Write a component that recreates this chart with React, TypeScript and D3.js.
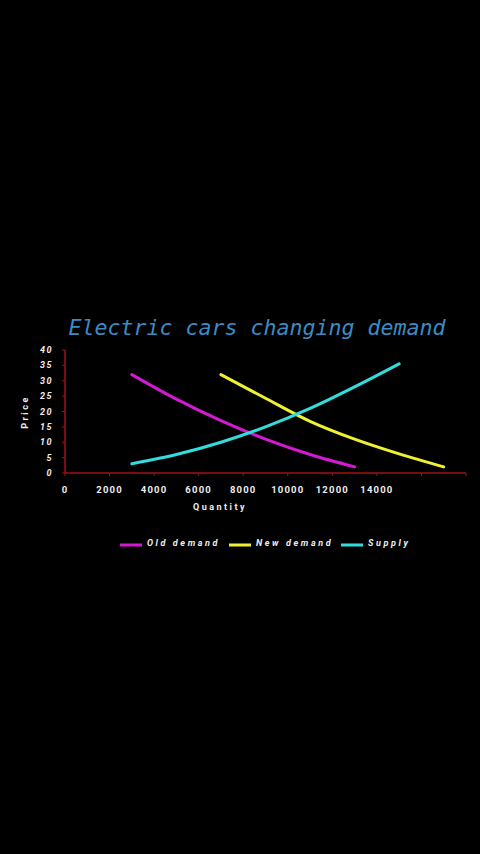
import React, { useEffect } from "react";
import * as d3 from "d3";

const quantityTicks = [0, 2000, 4000, 6000, 8000, 10000, 12000, 14000, 16000, 18000];
const quantityLabels = ["0", "2000", "4000", "6000", "8000", "10000", "12000", "14000", "", ""];
const priceTicks = [0, 5, 10, 15, 20, 25, 30, 35, 40];

const oldDemandQ = [3000, 5000, 7000, 9000, 11000, 13000];
const oldDemandP = [32, 24, 17, 11, 6, 2];
const newDemandQ = [7000, 9000, 11000, 13000, 15000, 17000];
const newDemandP = [32, 24.3, 16.8, 11, 6.2, 2];
const supplyQ = [3000, 5000, 7000, 9000, 11000, 13000, 15000];
const supplyP = [3, 6, 10, 15, 21, 28, 35.5];

const seriesNames = ["Old demand", "New demand", "Supply"];
const seriesColors = ["#d21ad2", "#f0f032", "#32dcdc"];

export default function App() {
  useEffect(() => {
    document.body.style.margin = "0";
    document.body.style.background = "#000";
  }, []);

  const x = d3.scaleLinear().domain([0, 18000]).range([65, 466]);
  const y = d3.scaleLinear().domain([0, 40]).range([473, 350]);
  const line = d3
    .line<[number, number]>()
    .x((d) => x(d[0]))
    .y((d) => y(d[1]))
    .curve(d3.curveMonotoneX);

  const series = [
    oldDemandQ.map((q, i) => [q, oldDemandP[i]] as [number, number]),
    newDemandQ.map((q, i) => [q, newDemandP[i]] as [number, number]),
    supplyQ.map((q, i) => [q, supplyP[i]] as [number, number]),
  ];

  const axisColor = "#a01212";
  const labelFont = "Roboto, 'DejaVu Sans', sans-serif";
  const legendX = [120, 229, 341];

  return (
    <svg width={480} height={854} style={{ display: "block", background: "#000" }}>
      <rect x={0} y={0} width={480} height={854} fill="#000" />
      <text
        x={257}
        y={335}
        textAnchor="middle"
        fill="#3a8cc4"
        fontFamily="'DejaVu Sans Mono', monospace"
        fontStyle="italic"
        fontSize={21.6}
      >
        Electric cars changing demand
      </text>

      {/* y axis */}
      <line x1={x(0)} x2={x(0)} y1={y(40)} y2={y(0)} stroke={axisColor} strokeWidth={1.5} />
      {priceTicks.map((p) => (
        <g key={p}>
          <line x1={x(0) - 3} x2={x(0)} y1={y(p)} y2={y(p)} stroke={axisColor} strokeWidth={1} />
          <text
            x={53}
            y={y(p) + 3}
            textAnchor="end"
            fill="#eee"
            fontFamily={labelFont}
            fontStyle="italic"
            fontWeight="bold"
            fontSize={9}
            letterSpacing={1.5}
          >
            {p}
          </text>
        </g>
      ))}

      {/* x axis */}
      <line x1={x(0)} x2={x(18000)} y1={y(0)} y2={y(0)} stroke={axisColor} strokeWidth={1.5} />
      {quantityTicks.map((q, i) => (
        <g key={q}>
          <line x1={x(q)} x2={x(q)} y1={y(0)} y2={y(0) + 3} stroke={axisColor} strokeWidth={1} />
          <text
            x={x(q)}
            y={493}
            textAnchor="middle"
            fill="#eee"
            fontFamily={labelFont}
            fontWeight="bold"
            fontSize={9.5}
            letterSpacing={1.2}
          >
            {quantityLabels[i]}
          </text>
        </g>
      ))}

      <text
        x={220}
        y={510}
        textAnchor="middle"
        fill="#eee"
        fontFamily={labelFont}
        fontWeight="bold"
        fontSize={9}
        letterSpacing={2.5}
      >
        Quantity
      </text>
      <text
        transform={`translate(28,${412}) rotate(-90)`}
        textAnchor="middle"
        fill="#eee"
        fontFamily={labelFont}
        fontWeight="bold"
        fontSize={9}
        letterSpacing={2.5}
      >
        Price
      </text>

      {series.map((s, i) => (
        <path
          key={i}
          d={line(s) || ""}
          fill="none"
          stroke={seriesColors[i]}
          strokeWidth={3}
          strokeLinecap="round"
        />
      ))}

      {seriesNames.map((n, i) => (
        <g key={n}>
          <line
            x1={legendX[i]}
            x2={legendX[i] + 22}
            y1={545}
            y2={545}
            stroke={seriesColors[i]}
            strokeWidth={3}
          />
          <text
            x={legendX[i] + 27}
            y={546}
            fill="#eee"
            fontFamily={labelFont}
            fontStyle="italic"
            fontWeight="bold"
            fontSize={9}
            letterSpacing={2.6}
          >
            {n}
          </text>
        </g>
      ))}
    </svg>
  );
}
